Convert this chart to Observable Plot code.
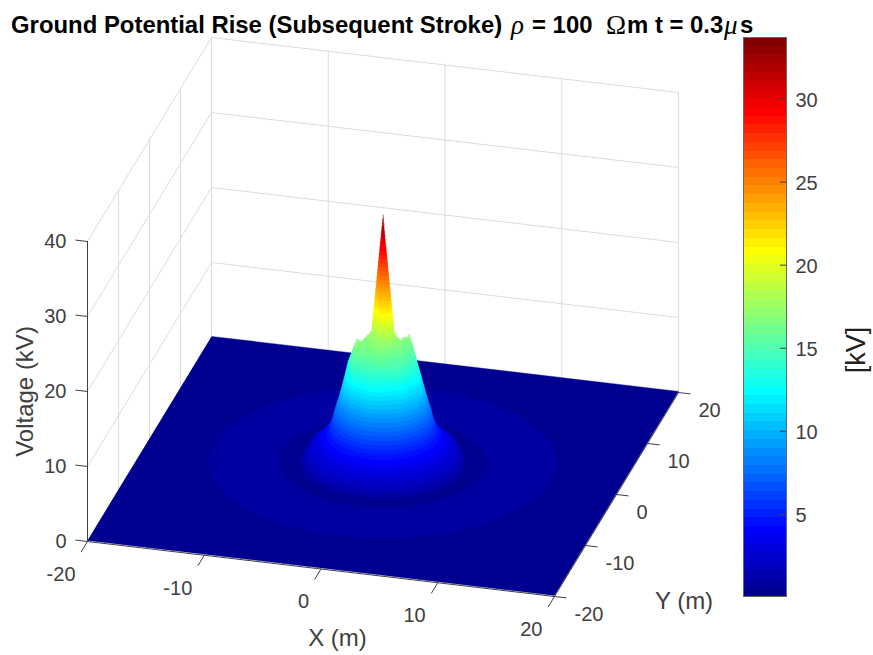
<!DOCTYPE html>
<html>
<head>
<meta charset="utf-8">
<script src="https://cdn.jsdelivr.net/npm/d3@7"></script>
<script src="https://cdn.jsdelivr.net/npm/@observablehq/plot@0.6"></script>
<style>
  html, body { margin: 0; padding: 0; background: #fff; }
  #chart { position: relative; width: 873px; height: 655px; overflow: hidden; font-family: "Liberation Sans", Arial, sans-serif; }
  #chart svg { position: absolute; top: 0; }
  #title { position: absolute; left: 0; top: 11px; width: 873px; height: 30px; white-space: pre; font: bold 23.9px/28px "Liberation Sans", Arial, sans-serif; color: #000; z-index: 2; }
  #title span { position: absolute; top: 0; }
  #title .g { font-family: "Liberation Serif", serif; font-weight: normal; font-size: 27px; }
  #title .i { font-style: italic; }
</style>
</head>
<body>
<div id="chart"><div id="title"><span style="left:11px">Ground Potential Rise (Subsequent Stroke)</span><span class="g i" style="left:511px">ρ</span><span style="left:532px">= 100</span><span class="g" style="left:606px">Ω</span><span style="left:627px">m t = 0.3</span><span class="g i" style="left:724px">μ</span><span style="left:740px">s</span></div></div>
<script>
// ---- tick values
const xTicks = [-20, -10, 0, 10, 20];
const yTicks = [-20, -10, 0, 10, 20];
const zTicks = [0, 10, 20, 30, 40];
const colorbarTicks = [5, 10, 15, 20, 25, 30];

// ---- surface: 1 m grid around the strike point (kV), rows Y = 3 … -3, columns X = -3 … 3
const coreV = [
  [ 5.5,  9.0, 11.6, 13.2, 11.6,  9.0,  5.5],
  [ 9.0, 14.5, 14.5, 15.8, 14.5, 14.5,  9.0],
  [11.6, 15.0, 16.0, 17.7, 16.0, 17.0, 11.6],
  [13.2, 15.8, 17.6, 33.4, 17.7, 15.8, 13.2],
  [11.6, 17.0, 16.5, 17.7, 16.0, 15.0, 11.6],
  [ 9.0, 15.0, 15.0, 15.8, 15.0, 14.5,  9.0],
  [ 5.5,  9.0, 11.6, 13.2, 11.6,  9.0,  5.5]
];
// ---- surface: voltage against distance from the strike, outside that core
const radialR = [2.8, 3, 3.16, 3.6, 4, 4.12, 4.47, 5, 5.4, 6, 6.3, 6.6, 6.9, 8.4, 8.8, 14.2, 14.6, 30];
const radialV = [14.5, 13.2, 11.6, 9, 7, 6.2, 4.7, 3.7, 2.9, 2.3, 1.9, 1.2, 0.4, 0.35, 0.85, 0.85, 0.3, 0.1];

// ---- colour scale (jet, 64 steps)
const vMin = 0.06, vMax = 33.7, nLevels = 64;
const jetPositions = [0, 1/8, 3/8, 5/8, 7/8, 1];
const jetColors = ["#000080", "#0000ff", "#00ffff", "#ffff00", "#ff0000", "#800000"];

// ---- axes view (orthographic, px per data unit)
const view = {cx: 382.5, cy: 466.5, xx: 11.675, xy: 3.1, yx: 1.375, yy: -5.1, z: -7.5};
const sx = (X, Y) => view.cx + view.xx * X + view.xy * Y;
const sy = (X, Y, Z) => view.cy + view.yx * X + view.yy * Y + view.z * Z;

const dV = (vMax - vMin) / nLevels;
const levelLow = k => vMin + k * dV;
const levelColor = k => vMin + (k + 1) * dV;
const colorScale = {type: "linear", domain: jetPositions.map(t => vMin + t * (vMax - vMin)), range: jetColors};

const radial = d3.scaleLinear(radialR, radialV).clamp(true);
function voltage(X, Y) {
  if (Math.abs(X) <= 3 && Math.abs(Y) <= 3) {
    // each grid cell is two triangles, split along the X + Y = constant diagonal
    const i = Math.min(5, Math.floor(X + 3)), j = Math.min(5, Math.floor(3 - Y));
    const u = X + 3 - i, v = 1 - (3 - Y - j);
    const A = coreV[j + 1][i], B = coreV[j + 1][i + 1], C = coreV[j][i], D = coreV[j][i + 1];
    return u + v <= 1
      ? A + (B - A) * u + (C - A) * v
      : D + (C - D) * (1 - u) + (B - D) * (1 - v);
  }
  return radial(Math.hypot(X, Y));
}

// sample the surface and slice it into the 64 colour bands; each band is swept
// upward in small steps so that steep walls stay closed
const step = 0.1, n = 401, sweeps = 5;
const field = new Float64Array(n * n);
for (let j = 0; j < n; j++) for (let i = 0; i < n; i++) {
  field[i + j * n] = voltage(-20 + i * step, -20 + j * step);
}
const contour = d3.contours().size([n, n]);
const bandPoints = [];
let pathId = 0;
for (const [X, Y] of [[-20, -20], [20, -20], [20, 20], [-20, 20]]) {
  bandPoints.push({X, Y, Z: 0.15, id: pathId, v: levelColor(0)});
}
for (let k = 1; k < nLevels; k++) {
  const g = contour.contour(field, levelLow(k));
  const copies = k < 4 ? 1 : sweeps;
  for (let c = 0; c < copies; c++) {
    pathId++;
    const Z = levelLow(k) + dV * c / sweeps;
    for (const poly of g.coordinates) for (const ring of poly) {
      for (const [a, b] of ring) {
        bandPoints.push({X: -20 + (a - 0.5) * step, Y: -20 + (b - 0.5) * step, Z, id: pathId, v: levelColor(k)});
      }
      bandPoints.push({X: NaN, Y: NaN, Z: NaN, id: pathId, v: levelColor(k)});
    }
  }
}

// box grid and axis lines as segments in data space
const seg = (list) => list.flatMap((s, id) => s.map(([X, Y, Z]) => ({X, Y, Z, id})));
const gridSegments = seg([
  ...xTicks.map(x => [[x, 20, 0], [x, 20, 40]]),
  ...zTicks.map(z => [[-20, 20, z], [20, 20, z]]),
  ...yTicks.map(y => [[-20, y, 0], [-20, y, 40]]),
  ...zTicks.map(z => [[-20, -20, z], [-20, 20, z]])
]);
const axisSegments = seg([
  [[-20, -20, 0], [20, -20, 0]],
  [[20, -20, 0], [20, 20, 0]],
  [[-20, -20, 0], [-20, -20, 40]],
  ...xTicks.map(x => [[x, -20, 0], [x, -22, 0]]),
  ...yTicks.map(y => [[20, y, 0], [21, y, 0]]),
  ...zTicks.map(z => [[-20, -20, z], [-21, -20, z]])
]);

const ink = "#404040";
const X = d => sx(d.X, d.Y), Y = d => sy(d.X, d.Y, d.Z);
const tickFont = {fontSize: 20, fill: ink, fontFamily: "Liberation Sans, Arial, sans-serif"};
const labelFont = {fontSize: 24, fill: ink, fontFamily: "Liberation Sans, Arial, sans-serif"};

const main = Plot.plot({
  width: 873, height: 655, margin: 0,
  x: {domain: [0, 873], range: [0, 873], axis: null},
  y: {domain: [0, 655], range: [0, 655], axis: null},
  color: colorScale,
  style: {background: "transparent"},
  marks: [
    Plot.line(gridSegments, {x: X, y: Y, z: "id", stroke: "#dcdcdc", strokeWidth: 1}),
    Plot.line(bandPoints, {x: X, y: Y, z: "id", fill: "v", stroke: "v", strokeWidth: 0.4, strokeLinejoin: "round"}),
    Plot.line(axisSegments, {x: X, y: Y, z: "id", stroke: ink, strokeWidth: 1}),
    Plot.text(xTicks, {x: d => sx(d, -20), y: d => sy(d, -20, 0), text: d => String(d), dx: -12, dy: 33, textAnchor: "end", ...tickFont}),
    Plot.text(yTicks, {x: d => sx(20, d), y: d => sy(20, d, 0), text: d => String(d), dx: 20, dy: 18, textAnchor: "start", ...tickFont}),
    Plot.text(zTicks, {x: sx(-20, -20), y: d => sy(-20, -20, d), text: d => String(d), dx: -21, textAnchor: "end", ...tickFont}),
    Plot.text(["X (m)"], {x: sx(0, -20), y: sy(0, -20, 0), dx: 16.5, dy: 69, ...labelFont}),
    Plot.text(["Y (m)"], {x: sx(20, 0), y: sy(20, 0, 0), dx: 67.5, dy: 106.7, ...labelFont}),
    Plot.text(["Voltage (kV)"], {x: sx(-20, -20), y: sy(-20, -20, 20), dx: -62, rotate: -90, ...labelFont})
  ]
});

const levels = d3.range(nLevels);
const colorbar = Plot.plot({
  width: 130, height: 655,
  marginLeft: 0, marginRight: 87, marginTop: 37, marginBottom: 59,
  x: {domain: [0, 1], axis: null},
  y: {domain: [vMin, vMax], axis: null},
  color: colorScale,
  style: {background: "transparent"},
  marks: [
    Plot.rect(levels, {x1: 0, x2: 1, y1: levelLow, y2: k => levelLow(k + 1), fill: levelColor, shapeRendering: "crispEdges"}),
    Plot.frame({stroke: "#666", strokeWidth: 1}),
    Plot.ruleY(colorbarTicks, {x1: 0.86, x2: 1, stroke: ink}),
    Plot.text(colorbarTicks, {x: 1, y: d => d, text: d => String(d), dx: 9, dy: 1.5, textAnchor: "start", ...tickFont}),
    Plot.text(["[kV]"], {x: 1, y: 14.9, dx: 70, rotate: -90, fontSize: 27, fill: "#202020", fontFamily: "Liberation Sans, Arial, sans-serif"})
  ]
});
colorbar.style.left = "743px";
colorbar.style.overflow = "visible";
const chart = document.getElementById("chart");
chart.appendChild(main);
chart.appendChild(colorbar);
</script>
</body>
</html>
